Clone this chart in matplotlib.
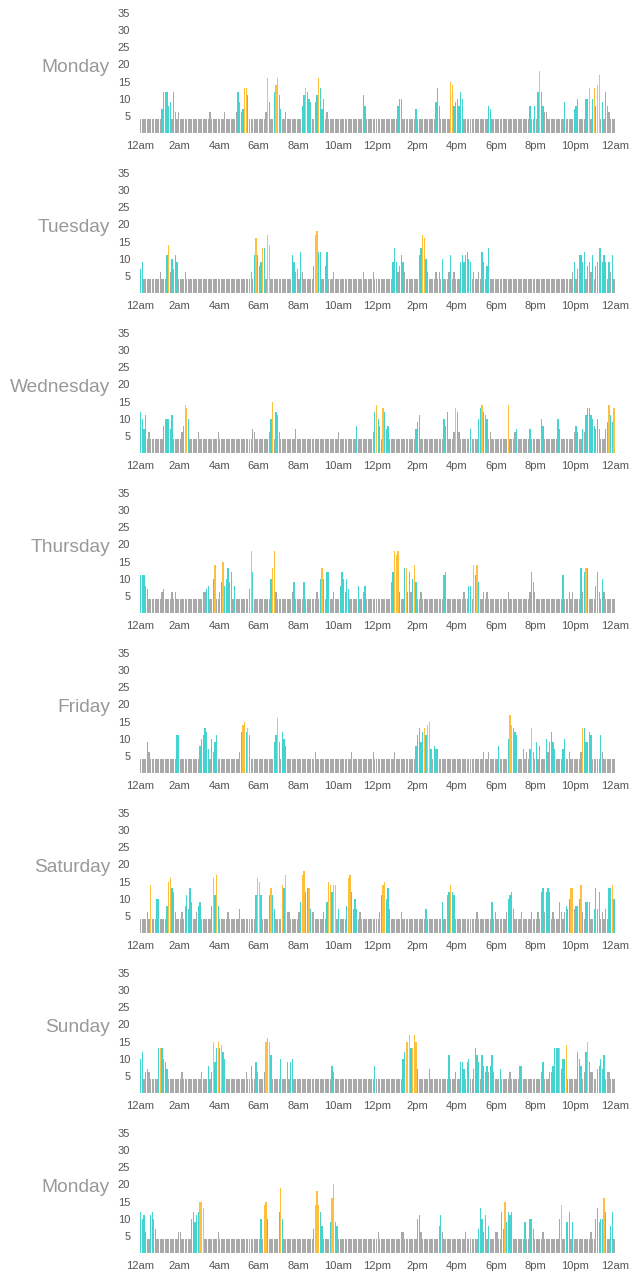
import matplotlib
matplotlib.use("Agg")
import matplotlib.pyplot as plt

plt.rcParams['font.family'] = ['Liberation Sans', 'DejaVu Sans']

# one bar every 5 minutes (288 per day); quiet bars sit at BASE
BASE = 4
N_BARS = 288
days = ["Monday", "Tuesday", "Wednesday", "Thursday", "Friday",
        "Saturday", "Sunday", "Monday"]
xtick_labels = ["12am", "2am", "4am", "6am", "8am", "10am", "12pm",
                "2pm", "4pm", "6pm", "8pm", "10pm", "12am"]
ytick_vals = [5, 10, 15, 20, 25, 30, 35]

# elevated bars: (bar index, value, colour code g=grey t=teal o=orange)
mon1 = [(13, 7, 't'), (14, 12, 't'), (15, 12, 't'), (16, 12, 't'), (17, 8, 't'),
        (18, 9, 't'), (20, 12, 't'), (21, 6, 'g'), (23, 6, 'g'), (42, 6, 'g'),
        (51, 6, 'g'), (58, 6, 'g'), (59, 12, 't'), (60, 9, 't'), (61, 6, 'g'),
        (62, 7, 't'), (63, 13, 'o'), (64, 13, 'o'), (65, 11, 't'), (76, 6, 'g'),
        (77, 16, 'o'), (78, 9, 't'), (81, 12, 't'), (82, 14, 'o'), (83, 16, 'o'),
        (84, 11, 't'), (85, 7, 't'), (88, 6, 'g'), (98, 8, 't'), (99, 11, 't'),
        (100, 13, 'o'), (101, 12, 't'), (102, 10, 't'), (103, 9, 't'), (106, 9, 't'),
        (107, 11, 't'), (108, 16, 'o'), (109, 13, 't'), (110, 7, 't'), (111, 10, 't'),
        (113, 6, 'g'), (135, 11, 't'), (136, 8, 't'), (156, 8, 't'), (157, 10, 't'),
        (158, 10, 't'), (167, 7, 't'), (179, 9, 't'), (180, 13, 't'), (181, 8, 't'),
        (188, 15, 'o'), (189, 14, 'o'), (190, 8, 't'), (191, 9, 't'), (192, 10, 't'),
        (193, 8, 't'), (194, 12, 't'), (195, 10, 't'), (211, 8, 't'), (212, 7, 't'),
        (236, 8, 't'), (239, 8, 't'), (241, 12, 't'), (242, 18, 'o'), (243, 12, 't'),
        (244, 8, 't'), (245, 6, 'g'), (246, 6, 'g'), (257, 9, 't'), (263, 7, 't'),
        (264, 8, 't'), (265, 10, 't'), (270, 10, 't'), (271, 10, 't'), (272, 13, 'o'),
        (274, 10, 't'), (275, 13, 'o'), (276, 8, 't'), (277, 14, 'o'), (278, 17, 'o'),
        (280, 9, 't'), (282, 12, 't'), (283, 8, 't'), (284, 6, 'g')]

tue = [(0, 7, 't'), (1, 9, 't'), (12, 6, 'g'), (16, 11, 't'), (17, 14, 'o'),
       (18, 6, 'g'), (19, 10, 't'), (20, 7, 't'), (21, 11, 't'), (22, 9, 't'),
       (27, 6, 'g'), (67, 6, 'g'), (69, 11, 't'), (70, 16, 'o'), (71, 11, 't'),
       (72, 8, 't'), (73, 9, 't'), (74, 13, 'o'), (75, 13, 't'), (77, 17, 'o'),
       (78, 14, 'o'), (92, 11, 't'), (93, 9, 't'), (94, 6, 'g'), (95, 7, 't'),
       (97, 12, 't'), (98, 6, 'g'), (105, 8, 't'), (106, 17, 'o'), (107, 18, 'o'),
       (108, 12, 't'), (109, 12, 't'), (112, 8, 't'), (113, 12, 't'), (117, 6, 'g'),
       (135, 6, 'g'), (141, 6, 'g'), (153, 9, 't'), (154, 13, 't'), (155, 9, 't'),
       (156, 6, 'g'), (157, 8, 't'), (158, 11, 't'), (159, 9, 't'), (160, 6, 'g'),
       (169, 11, 't'), (170, 13, 't'), (171, 17, 'o'), (172, 16, 'o'), (173, 10, 't'),
       (174, 6, 'g'), (179, 6, 'g'), (181, 6, 'g'), (183, 10, 't'), (187, 6, 'g'),
       (188, 11, 't'), (190, 6, 'g'), (194, 9, 't'), (195, 11, 't'), (196, 9, 't'),
       (197, 11, 't'), (198, 12, 't'), (199, 10, 't'), (200, 9, 't'), (202, 6, 'g'),
       (205, 6, 'g'), (207, 12, 't'), (208, 9, 't'), (210, 8, 't'), (211, 13, 't'),
       (262, 6, 'g'), (263, 9, 't'), (265, 7, 't'), (266, 11, 't'), (267, 11, 't'),
       (268, 9, 't'), (269, 12, 't'), (271, 8, 't'), (272, 9, 't'), (273, 6, 'g'),
       (274, 11, 't'), (276, 8, 't'), (277, 9, 't'), (278, 13, 't'), (279, 13, 't'),
       (280, 9, 't'), (281, 11, 't'), (282, 9, 't'), (284, 9, 't'), (285, 6, 'g'),
       (286, 11, 't')]

wed = [(0, 12, 't'), (1, 10, 't'), (2, 7, 't'), (3, 11, 't'), (5, 6, 'g'),
       (14, 8, 't'), (15, 10, 't'), (16, 10, 't'), (17, 10, 't'), (18, 7, 't'),
       (19, 11, 't'), (25, 6, 'g'), (26, 8, 't'), (27, 14, 'o'), (28, 13, 'o'),
       (29, 10, 't'), (35, 6, 'g'), (47, 6, 'g'), (68, 7, 'g'), (69, 6, 'g'),
       (78, 6, 'g'), (79, 10, 't'), (80, 15, 'o'), (82, 12, 't'), (83, 11, 't'),
       (84, 6, 'g'), (94, 7, 't'), (120, 6, 'g'), (131, 8, 't'), (141, 6, 'g'),
       (142, 12, 't'), (143, 14, 'o'), (144, 10, 't'), (145, 8, 't'), (147, 13, 'o'),
       (148, 12, 't'), (149, 7, 't'), (150, 8, 't'), (167, 7, 't'), (168, 9, 't'),
       (169, 11, 't'), (184, 10, 't'), (185, 8, 't'), (186, 12, 't'), (190, 6, 'g'),
       (191, 13, 'o'), (192, 12, 't'), (193, 6, 'g'), (200, 7, 't'), (205, 10, 't'),
       (206, 13, 't'), (207, 14, 'o'), (208, 12, 't'), (209, 11, 't'), (210, 10, 't'),
       (212, 6, 'g'), (223, 14, 'o'), (227, 6, 'g'), (228, 7, 't'), (236, 7, 't'),
       (243, 10, 't'), (244, 8, 't'), (253, 10, 't'), (254, 7, 't'), (263, 6, 'g'),
       (264, 8, 't'), (265, 6, 'g'), (268, 7, 't'), (269, 6, 'g'), (270, 11, 't'),
       (271, 13, 't'), (272, 13, 't'), (273, 11, 't'), (274, 10, 't'), (275, 8, 't'),
       (276, 7, 't'), (277, 10, 't'), (278, 7, 't'), (282, 7, 'g'), (283, 9, 't'),
       (284, 14, 'o'), (285, 11, 't'), (286, 9, 't'), (287, 13, 'o')]

thu = [(0, 11, 't'), (1, 11, 't'), (2, 11, 't'), (3, 8, 't'), (4, 7, 't'),
       (13, 6, 'g'), (14, 7, 't'), (19, 6, 'g'), (21, 6, 'g'), (38, 6, 'g'),
       (39, 6, 'g'), (40, 7, 't'), (41, 8, 't'), (44, 10, 't'), (45, 14, 'o'),
       (48, 6, 'g'), (49, 9, 't'), (50, 15, 'o'), (51, 8, 't'), (52, 10, 't'),
       (53, 13, 't'), (54, 9, 't'), (55, 12, 't'), (57, 8, 't'), (66, 7, 't'),
       (67, 18, 'o'), (68, 12, 't'), (79, 10, 't'), (80, 13, 'o'), (81, 18, 'o'),
       (82, 6, 'g'), (92, 6, 'g'), (93, 9, 't'), (99, 9, 't'), (107, 6, 'g'),
       (109, 10, 't'), (110, 13, 'o'), (111, 10, 't'), (113, 12, 't'), (114, 12, 't'),
       (117, 6, 'g'), (121, 8, 't'), (122, 12, 't'), (123, 10, 't'), (124, 6, 'g'),
       (125, 10, 't'), (126, 7, 't'), (132, 8, 't'), (135, 6, 'g'), (136, 8, 't'),
       (152, 9, 't'), (153, 12, 't'), (154, 18, 'o'), (155, 17, 'o'), (156, 18, 'o'),
       (157, 6, 'g'), (160, 13, 't'), (161, 13, 'o'), (162, 6, 'g'), (163, 12, 't'),
       (164, 6, 'g'), (165, 10, 't'), (166, 14, 'o'), (167, 9, 't'), (170, 6, 'g'),
       (184, 11, 't'), (185, 12, 't'), (196, 6, 'g'), (199, 8, 't'), (200, 8, 't'),
       (202, 14, 'o'), (203, 11, 't'), (204, 14, 'o'), (205, 9, 't'), (208, 6, 'g'),
       (210, 6, 'g'), (223, 6, 'g'), (236, 6, 'g'), (237, 12, 't'), (238, 9, 't'),
       (239, 6, 'g'), (256, 11, 't'), (260, 6, 'g'), (262, 6, 'g'), (267, 13, 't'),
       (268, 6, 'g'), (269, 12, 't'), (270, 13, 'o'), (271, 13, 't'), (276, 8, 't'),
       (277, 12, 't'), (278, 6, 'g'), (280, 10, 't'), (281, 6, 'g')]

fri = [(4, 9, 't'), (5, 6, 'g'), (22, 11, 't'), (23, 11, 't'), (36, 8, 't'),
       (37, 10, 't'), (38, 11, 't'), (39, 13, 't'), (40, 12, 't'), (41, 7, 't'),
       (43, 10, 't'), (44, 6, 'g'), (45, 9, 't'), (46, 11, 't'), (60, 6, 'g'),
       (61, 12, 't'), (62, 14, 'o'), (63, 15, 'o'), (64, 12, 't'), (65, 13, 'o'),
       (66, 11, 't'), (81, 9, 't'), (82, 11, 't'), (83, 16, 'o'), (84, 9, 't'),
       (86, 12, 't'), (87, 10, 't'), (88, 8, 't'), (106, 6, 'g'), (128, 6, 'g'),
       (141, 6, 'g'), (154, 6, 'g'), (167, 8, 't'), (168, 11, 't'), (169, 13, 't'),
       (170, 9, 't'), (171, 12, 't'), (172, 13, 'o'), (173, 11, 't'), (174, 14, 'o'),
       (175, 15, 'o'), (176, 7, 't'), (178, 8, 't'), (179, 7, 't'), (180, 7, 't'),
       (208, 6, 'g'), (211, 6, 'g'), (217, 8, 't'), (223, 10, 't'), (224, 17, 'o'),
       (225, 14, 'o'), (226, 13, 't'), (227, 12, 't'), (228, 11, 't'), (232, 7, 't'),
       (234, 6, 'g'), (236, 7, 't'), (237, 13, 'o'), (238, 6, 'g'), (240, 9, 't'),
       (242, 8, 't'), (246, 10, 't'), (247, 6, 'g'), (248, 9, 't'), (249, 12, 't'),
       (250, 9, 't'), (251, 7, 't'), (256, 7, 't'), (257, 10, 't'), (260, 6, 'g'),
       (267, 6, 'g'), (268, 13, 'o'), (269, 13, 't'), (270, 9, 't'), (271, 9, 't'),
       (272, 12, 't'), (273, 11, 't'), (279, 11, 't'), (280, 6, 'g')]

sat = [(4, 6, 'g'), (6, 14, 'o'), (10, 10, 't'), (11, 10, 't'), (16, 8, 't'),
       (17, 15, 'o'), (18, 16, 'o'), (19, 13, 't'), (20, 12, 't'), (21, 6, 'g'),
       (25, 6, 'g'), (27, 8, 't'), (28, 11, 't'), (29, 7, 't'), (30, 13, 't'),
       (31, 9, 't'), (34, 6, 'g'), (35, 8, 't'), (36, 9, 't'), (43, 8, 't'),
       (44, 16, 'o'), (45, 11, 't'), (46, 17, 'o'), (47, 8, 't'), (53, 6, 'g'),
       (60, 7, 't'), (70, 11, 't'), (71, 16, 'o'), (72, 15, 'o'), (73, 11, 't'),
       (78, 11, 't'), (79, 13, 'o'), (80, 11, 't'), (81, 7, 't'), (86, 14, 'o'),
       (87, 13, 't'), (88, 17, 'o'), (89, 6, 'g'), (90, 6, 'g'), (96, 6, 'g'),
       (97, 9, 't'), (98, 17, 'o'), (99, 18, 'o'), (100, 12, 't'), (101, 13, 't'),
       (102, 13, 'o'), (103, 7, 't'), (104, 6, 'g'), (105, 6, 'g'), (111, 6, 'g'),
       (113, 9, 't'), (114, 15, 'o'), (115, 14, 'o'), (116, 12, 't'), (117, 14, 'o'),
       (118, 14, 'o'), (120, 7, 't'), (125, 8, 't'), (126, 16, 'o'), (127, 17, 'o'),
       (128, 12, 't'), (129, 7, 't'), (130, 10, 't'), (131, 7, 't'), (133, 6, 'g'),
       (145, 6, 'g'), (146, 11, 't'), (147, 14, 'o'), (148, 15, 'o'), (149, 10, 't'),
       (150, 13, 't'), (151, 7, 't'), (158, 6, 'g'), (173, 7, 't'), (183, 9, 't'),
       (186, 11, 't'), (187, 12, 't'), (188, 14, 'o'), (189, 12, 't'), (190, 11, 't'),
       (204, 6, 'g'), (213, 9, 't'), (215, 6, 'g'), (222, 6, 'g'), (223, 10, 't'),
       (224, 11, 't'), (225, 12, 't'), (226, 7, 't'), (231, 6, 'g'), (237, 6, 'g'),
       (241, 6, 'g'), (243, 12, 't'), (244, 13, 't'), (245, 6, 'g'), (246, 12, 't'),
       (247, 13, 't'), (248, 12, 't'), (250, 6, 'g'), (254, 9, 't'), (255, 6, 'g'),
       (257, 6, 'g'), (258, 8, 't'), (259, 7, 't'), (260, 10, 't'), (261, 13, 'o'),
       (262, 13, 'o'), (263, 7, 'g'), (264, 8, 't'), (265, 8, 't'), (266, 10, 't'),
       (267, 14, 'o'), (268, 6, 'g'), (270, 9, 't'), (271, 9, 't'), (272, 9, 't'),
       (275, 7, 't'), (276, 13, 't'), (277, 7, 't'), (278, 12, 't'), (280, 6, 'g'),
       (282, 7, 't'), (284, 13, 't'), (285, 13, 't'), (286, 14, 'o'), (287, 10, 't')]

sun = [(0, 10, 't'), (1, 12, 't'), (3, 6, 'g'), (4, 7, 't'), (5, 6, 'g'),
       (11, 13, 't'), (12, 13, 'o'), (13, 13, 't'), (14, 10, 't'), (15, 9, 't'),
       (16, 7, 't'), (25, 6, 'g'), (37, 6, 'g'), (41, 8, 't'), (43, 6, 'g'),
       (44, 15, 'o'), (45, 9, 't'), (46, 13, 't'), (47, 15, 'o'), (48, 13, 't'),
       (49, 14, 'o'), (50, 12, 't'), (51, 10, 't'), (64, 6, 'g'), (67, 8, 't'),
       (70, 9, 't'), (71, 6, 'g'), (75, 6, 'g'), (76, 15, 'o'), (77, 16, 'o'),
       (78, 15, 'o'), (79, 11, 't'), (85, 10, 't'), (89, 9, 't'), (91, 9, 't'),
       (92, 10, 't'), (116, 8, 't'), (117, 6, 'g'), (142, 8, 't'), (159, 10, 't'),
       (160, 12, 't'), (161, 15, 'o'), (162, 15, 'o'), (163, 17, 'o'), (164, 13, 't'),
       (165, 13, 'o'), (166, 17, 'o'), (167, 15, 'o'), (168, 7, 't'), (175, 7, 't'),
       (187, 11, 't'), (191, 6, 'g'), (194, 9, 't'), (195, 9, 't'), (196, 7, 't'),
       (198, 9, 't'), (199, 10, 't'), (202, 7, 't'), (203, 13, 't'), (204, 11, 't'),
       (205, 9, 't'), (207, 11, 't'), (208, 8, 't'), (209, 6, 'g'), (210, 8, 't'),
       (211, 6, 'g'), (212, 8, 't'), (213, 11, 't'), (214, 6, 'g'), (218, 7, 't'),
       (224, 6, 'g'), (230, 8, 't'), (231, 8, 't'), (243, 6, 'g'), (244, 9, 't'),
       (248, 6, 'g'), (249, 6, 'g'), (250, 8, 't'), (251, 13, 't'), (252, 13, 't'),
       (253, 13, 't'), (254, 13, 'o'), (255, 7, 't'), (256, 10, 't'), (257, 10, 't'),
       (258, 14, 'o'), (265, 12, 't'), (266, 10, 't'), (267, 8, 't'), (269, 6, 'g'),
       (270, 12, 't'), (271, 15, 'o'), (272, 9, 't'), (273, 6, 'g'), (274, 6, 'g'),
       (277, 7, 'g'), (278, 8, 't'), (279, 10, 't'), (280, 7, 't'), (281, 11, 't'),
       (283, 6, 'g'), (284, 6, 'g')]

mon2 = [(0, 12, 't'), (1, 10, 't'), (2, 11, 't'), (3, 6, 'g'), (6, 11, 't'),
        (7, 12, 't'), (8, 10, 't'), (9, 7, 't'), (23, 6, 'g'), (24, 6, 'g'),
        (31, 10, 't'), (32, 12, 't'), (33, 9, 't'), (34, 11, 't'), (35, 12, 't'),
        (36, 15, 'o'), (37, 15, 'o'), (38, 13, 'o'), (47, 6, 'g'), (73, 10, 't'),
        (75, 14, 'o'), (76, 15, 'o'), (77, 10, 't'), (84, 12, 't'), (85, 19, 'o'),
        (86, 10, 't'), (105, 7, 'g'), (106, 14, 'o'), (107, 18, 'o'), (108, 14, 'o'),
        (109, 12, 't'), (110, 8, 't'), (115, 9, 't'), (116, 16, 'o'), (117, 20, 'o'),
        (118, 9, 't'), (119, 8, 't'), (144, 6, 'g'), (158, 6, 'g'), (159, 6, 'g'),
        (168, 10, 't'), (169, 11, 't'), (170, 6, 'g'), (181, 8, 't'), (182, 11, 't'),
        (183, 6, 'g'), (197, 6, 'g'), (205, 7, 't'), (206, 13, 't'), (207, 10, 't'),
        (208, 6, 'g'), (209, 11, 't'), (211, 8, 't'), (215, 6, 'g'), (216, 6, 'g'),
        (219, 12, 't'), (220, 7, 't'), (221, 15, 'o'), (222, 9, 't'), (223, 12, 't'),
        (224, 11, 't'), (225, 12, 't'), (233, 9, 't'), (236, 10, 't'), (237, 10, 't'),
        (238, 7, 't'), (244, 6, 'g'), (254, 10, 't'), (255, 14, 'o'), (258, 9, 't'),
        (259, 9, 't'), (260, 12, 't'), (262, 9, 't'), (273, 6, 'g'), (276, 10, 't'),
        (277, 13, 't'), (278, 9, 't'), (279, 10, 't'), (280, 10, 't'), (281, 16, 'o'),
        (282, 12, 't'), (285, 8, 't'), (286, 12, 't')]

spikes = [mon1, tue, wed, thu, fri, sat, sun, mon2]

colours = {'g': '#a9a9a9', 't': '#45d3cf', 'o': '#ffbf3c'}

W, H = 634, 1288
fig = plt.figure(figsize=(W / 100, H / 100), dpi=100)

px_per_unit = 120 / 35.0
ymax = 38
for k, (day, pts) in enumerate(zip(days, spikes)):
    vals = [BASE] * N_BARS
    cols = ['g'] * N_BARS
    for i, v, c in pts:
        vals[i] = v
        cols[i] = c
    bottom_px = 133 + 160 * k
    ax = fig.add_axes([140 / W, 1 - bottom_px / H, 475 / W, ymax * px_per_unit / H])
    x = [i / 12 for i in range(N_BARS)]
    ax.bar(x, vals, width=0.78 / 12, align='edge',
           color=[colours[c] for c in cols], linewidth=0)
    ax.set_xlim(0, 24)
    ax.set_ylim(0, ymax)
    ax.set_xticks(range(0, 25, 2))
    ax.set_xticklabels(xtick_labels)
    ax.set_yticks(ytick_vals)
    ax.set_yticklabels([str(v) for v in ytick_vals])
    ax.tick_params(length=0, labelsize=8, colors='#555555')
    ax.tick_params(axis='x', pad=6)
    ax.tick_params(axis='y', pad=7)
    for s in ax.spines.values():
        s.set_visible(False)
    # day name sits left of the y tick labels, around the 20 mark
    ax.annotate(day, xy=(0, 19), xycoords=('axes fraction', 'data'),
                xytext=(-30, 0), textcoords='offset pixels',
                ha='right', va='center', fontsize=13.8, color='#999999')

fig.savefig('out.png', dpi=100)
